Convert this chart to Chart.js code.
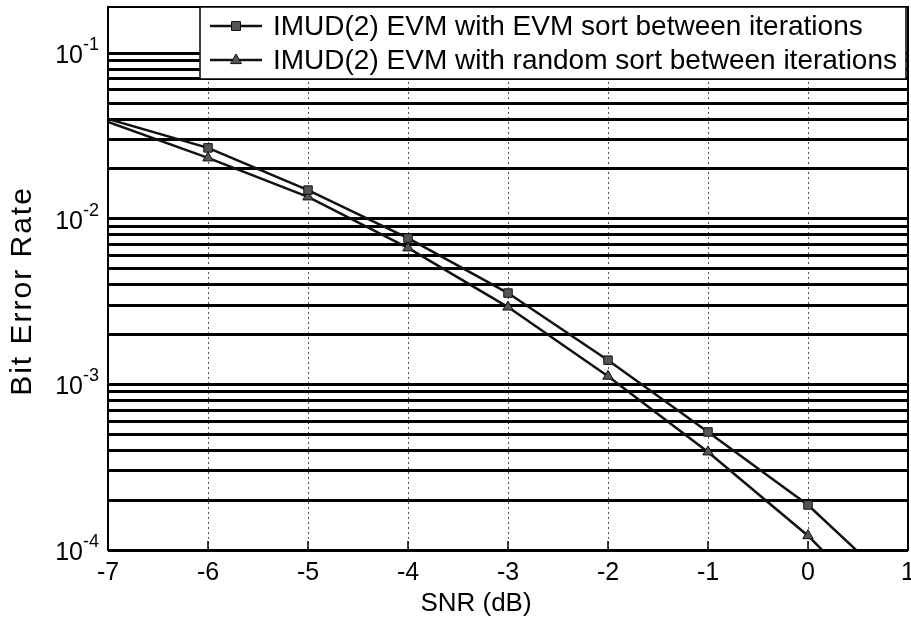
<!DOCTYPE html>
<html>
<head>
<meta charset="utf-8">
<script src="https://cdn.jsdelivr.net/npm/chart.js@4/dist/chart.umd.min.js"></script>
<style>
  html, body { margin: 0; padding: 0; background: #fff; }
  #wrap { width: 911px; height: 624px; }
</style>
</head>
<body>
<div id="wrap"><canvas id="ber-canvas"></canvas></div>
<script>
// SNR points (dB); the ends at -7 and 1 carry no marker, the line just runs off the axes
const snr = [-7, -6, -5, -4, -3, -2, -1, 0, 1];
const berEvmSort = [0.0401, 0.0268, 0.0149, 0.00765, 0.00356, 0.00140, 0.000516, 0.000187, 0.000051];
const berRandomSort = [0.0385, 0.0233, 0.01355, 0.00667, 0.00293, 0.00112, 0.000391, 0.000122, 0.000030];
const seriesLabels = [
    "IMUD(2) EVM with EVM sort between iterations",
    "IMUD(2) EVM with random sort between iterations"
];
const yDecades = [1e-4, 1e-3, 1e-2, 1e-1];
const yExponents = ["-4", "-3", "-2", "-1"];
const xLabel = "SNR (dB)";
const yLabel = "Bit Error Rate";

const FONT = '"Liberation Sans", Arial, sans-serif';

// every 1..9 x decade gets a (scanned-looking, thick) grid line
function minorTicks(min, max) {
    const out = [];
    yDecades.forEach(d => {
        for (let k = 1; k <= 9; k++) {
            const v = k * d;
            if (v >= min * 0.999 && v <= max) out.push({ value: v });
        }
    });
    return out;
}

function toPoints(ys) {
    return snr.map((x, i) => ({ x: x, y: ys[i] }));
}

const markerSizes = snr.map(x => (x > -7 && x < 1) ? 6 : 0);

function legendMarker(ctx, style, cx, cy, r) {
    ctx.beginPath();
    if (style === "triangle") {
        ctx.moveTo(cx, cy - r);
        ctx.lineTo(cx + r * 0.9, cy + r * 0.6);
        ctx.lineTo(cx - r * 0.9, cy + r * 0.6);
        ctx.closePath();
    } else {
        ctx.rect(cx - r * 0.75, cy - r * 0.75, r * 1.5, r * 1.5);
    }
}

const paperPlugin = {
    id: "paper",
    afterDraw(chart) {
        const { ctx, chartArea: a, scales } = chart;
        const xs = scales.x, ys = scales.y;
        ctx.save();

        // frame
        ctx.strokeStyle = "#000";
        ctx.lineWidth = 2;
        ctx.strokeRect(a.left, a.top, a.right - a.left, a.bottom - a.top);

        // inward tick marks on the x axis
        ctx.lineWidth = 1.5;
        xs.ticks.forEach(t => {
            const px = xs.getPixelForValue(t.value);
            ctx.beginPath();
            ctx.moveTo(px, a.bottom);
            ctx.lineTo(px, a.bottom - 9);
            ctx.stroke();
        });

        // y tick labels 10^n
        ctx.fillStyle = "#000";
        yDecades.forEach((v, i) => {
            const py = ys.getPixelForValue(v);
            ctx.font = "25px " + FONT;
            ctx.textAlign = "right";
            ctx.textBaseline = "middle";
            ctx.fillText("10", 83, py + 3);
            ctx.font = "18px " + FONT;
            ctx.textAlign = "left";
            ctx.textBaseline = "alphabetic";
            ctx.fillText(yExponents[i], 83, py - 3);
        });

        // axis titles
        ctx.font = "26px " + FONT;
        ctx.textAlign = "center";
        ctx.textBaseline = "middle";
        ctx.fillText(xLabel, 476, 604);

        ctx.save();
        ctx.translate(23, 291);
        ctx.rotate(-Math.PI / 2);
        ctx.font = "30px " + FONT;
        ctx.letterSpacing = "2px";
        ctx.fillText(yLabel, 0, 0);
        ctx.restore();

        // legend box in the upper right
        const bx = 200, by = a.top, bw = a.right - 2 - bx, bh = 72;
        ctx.fillStyle = "#fff";
        ctx.fillRect(bx, by, bw, bh);
        ctx.strokeStyle = "#000";
        ctx.lineWidth = 1.5;
        ctx.strokeRect(bx, by, bw, bh);

        chart.data.datasets.forEach((ds, i) => {
            const rowY = by + 19 + i * 34;
            ctx.strokeStyle = ds.borderColor;
            ctx.lineWidth = ds.borderWidth;
            ctx.beginPath();
            ctx.moveTo(210, rowY);
            ctx.lineTo(262, rowY);
            ctx.stroke();
            legendMarker(ctx, ds.pointStyle, 236, rowY, 6);
            ctx.fillStyle = ds.pointBackgroundColor;
            ctx.strokeStyle = ds.pointBorderColor;
            ctx.lineWidth = 1;
            ctx.fill();
            ctx.stroke();
            ctx.fillStyle = "#000";
            ctx.font = "28px " + FONT;
            ctx.textAlign = "left";
            ctx.textBaseline = "middle";
            ctx.fillText(ds.label, 273, rowY + 1);
        });

        ctx.restore();
    }
};

const chart = new Chart(document.getElementById("ber-canvas"), {
    type: "line",
    data: {
        datasets: [{
            label: seriesLabels[0],
            data: toPoints(berEvmSort),
            borderColor: "#111",
            borderWidth: 2.5,
            pointStyle: "rect",
            pointRadius: markerSizes,
            pointBackgroundColor: "#555",
            pointBorderColor: "#111",
            pointBorderWidth: 1,
            tension: 0
        }, {
            label: seriesLabels[1],
            data: toPoints(berRandomSort),
            borderColor: "#111",
            borderWidth: 2.5,
            pointStyle: "triangle",
            pointRadius: markerSizes,
            pointBackgroundColor: "#555",
            pointBorderColor: "#111",
            pointBorderWidth: 1,
            tension: 0
        }]
    },
    options: {
        responsive: true,
        maintainAspectRatio: false,
        animation: false,
        layout: { padding: { top: 7, right: 3, left: 0, bottom: 0 } },
        plugins: {
            legend: { display: false },
            tooltip: { enabled: false }
        },
        scales: {
            x: {
                type: "linear",
                min: -7,
                max: 1,
                ticks: {
                    stepSize: 1,
                    color: "#000",
                    padding: 8,
                    font: { family: FONT, size: 25 }
                },
                grid: {
                    color: "#555",
                    lineWidth: 1,
                    drawTicks: false
                },
                border: { display: false, dash: [2, 3] },
                afterFit(scale) {
                    scale.height = 74;
                    scale.paddingLeft = 0;
                    scale.paddingRight = 0;
                }
            },
            y: {
                type: "logarithmic",
                min: 1e-4,
                max: 0.19,
                afterBuildTicks(scale) { scale.ticks = minorTicks(scale.min, scale.max); },
                ticks: { display: false },
                grid: {
                    color: "#000",
                    lineWidth: 3,
                    drawTicks: false
                },
                border: { display: false },
                afterFit(scale) { scale.width = 108; }
            }
        }
    },
    plugins: [paperPlugin]
});
</script>
</body>
</html>
